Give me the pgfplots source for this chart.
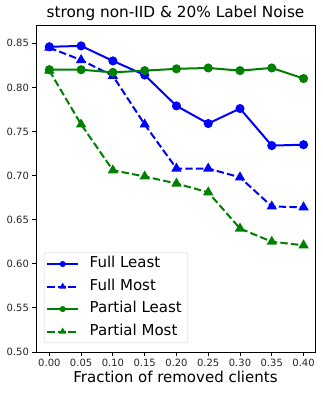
\documentclass[border=0pt]{standalone}
\usepackage{pgfplots}
\pgfplotsset{compat=1.18}
\usepackage{fontspec}
\setmainfont{DejaVu Sans}
\definecolor{mblue}{RGB}{0,0,255}
\definecolor{mgreen}{RGB}{0,128,0}
\begin{document}
\begin{tikzpicture}
\begin{axis}[
  scale only axis, width=279pt, height=327pt,
  xmin=-0.021, xmax=0.418, ymin=0.5, ymax=0.8707,
  xtick={0,0.05,0.1,0.15,0.2,0.25,0.3,0.35,0.4},
  ytick={0.5,0.55,0.6,0.65,0.7,0.75,0.8,0.85},
  /pgf/number format/fixed, /pgf/number format/fixed zerofill,
  /pgf/number format/precision=2, /pgf/number format/assume math mode=true,
  scaled ticks=false,
  tick align=outside, major tick length=3.5pt, tick pos=left,
  tick style={black, line width=0.8pt},
  axis line style={line width=0.8pt},
  tick label style={font=\fontsize{10}{12}\selectfont, color=black!85},
  xticklabel style={yshift=-0.5pt},
  title={strong non-IID \& 20\% Label Noise},
  title style={font=\fontsize{15.3}{18}\selectfont, yshift=-5.5pt},
  xlabel={Fraction of removed clients},
  xlabel style={font=\fontsize{15}{18}\selectfont, yshift=3pt},
  legend style={at={(0,0)}, anchor=south west, xshift=8pt, yshift=9pt,
    font=\fontsize{15}{18}\selectfont, draw=black!18, rounded corners=2pt,
    inner sep=2pt, row sep=4pt,
    nodes={text height=11pt, text depth=3.5pt, inner ysep=2pt, inner xsep=4pt},
    /tikz/every odd column/.append style={column sep=6.5pt}},
  legend cell align=left,
  legend image code/.code={
    \draw[mark repeat=2, mark phase=2, #1] plot coordinates {(0pt,0pt) (15.5pt,0pt) (31pt,0pt)};},
  legend image post style={mark size=2pt},
]
\addplot[mblue, line width=2pt, mark=*, mark size=3.5pt] coordinates {
(0,0.846) (0.05,0.847) (0.1,0.830) (0.15,0.814) (0.2,0.779) (0.25,0.759) (0.3,0.776) (0.35,0.734) (0.4,0.735)};
\addlegendentry{Full Least}
\addplot[mblue, line width=2pt, dash pattern=on 7.4pt off 3.2pt, mark=triangle*, mark size=4pt, mark options={solid}] coordinates {
(0,0.845) (0.05,0.831) (0.1,0.813) (0.15,0.758) (0.2,0.708) (0.25,0.708) (0.3,0.698) (0.35,0.665) (0.4,0.664)};
\addlegendentry{Full Most}
\addplot[mgreen, line width=2pt, mark=*, mark size=3.5pt] coordinates {
(0,0.820) (0.05,0.820) (0.1,0.817) (0.15,0.819) (0.2,0.821) (0.25,0.822) (0.3,0.819) (0.35,0.822) (0.4,0.810)};
\addlegendentry{Partial Least}
\addplot[mgreen, line width=2pt, dash pattern=on 7.4pt off 3.2pt, mark=triangle*, mark size=4pt, mark options={solid}] coordinates {
(0,0.819) (0.05,0.758) (0.1,0.706) (0.15,0.699) (0.2,0.691) (0.25,0.681) (0.3,0.640) (0.35,0.625) (0.4,0.621)};
\addlegendentry{Partial Most}
\end{axis}
\pgfresetboundingbox
\path[use as bounding box] (-36pt,-42pt) rectangle (286pt,352pt);
\end{tikzpicture}
\end{document}
